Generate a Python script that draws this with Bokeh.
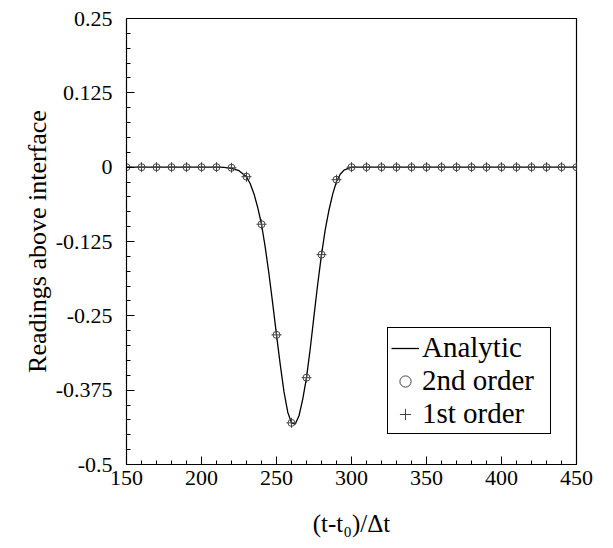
from bokeh.plotting import figure
from bokeh.models import FixedTicker, Legend, LegendItem, Range1d
from bokeh.embed import file_html
from bokeh.resources import INLINE

# ---- data ----
analytic_x = [150, 200, 210, 215, 220, 225, 230, 232.5, 235, 237.5, 240, 242.5,
              245, 247.5, 250, 252.5, 255, 257.5, 260, 262.5, 265, 267.5, 270,
              272.5, 275, 277.5, 280, 282.5, 285, 287.5, 290, 292.5, 295, 300,
              310, 450]
analytic_y = [0.0, 0.0, 0.0, -0.0005, -0.002, -0.006, -0.016, -0.028, -0.045,
              -0.068, -0.096, -0.135, -0.180, -0.230, -0.282, -0.332, -0.378,
              -0.412, -0.430, -0.432, -0.418, -0.390, -0.354, -0.305, -0.250,
              -0.196, -0.147, -0.105, -0.072, -0.045, -0.024, -0.012, -0.005,
              0.0, 0.0, 0.0]

pts_x = [150, 160, 170, 180, 190, 200, 210, 220, 230, 240, 250, 260, 270, 280,
         290, 300, 310, 320, 330, 340, 350, 360, 370, 380, 390, 400, 410, 420,
         430, 440, 450]
second_order = [0, 0, 0, 0, 0, 0, 0, -0.001, -0.016, -0.096, -0.282, -0.430,
                -0.354, -0.147, -0.021, 0, 0, 0, 0, 0, 0, 0, 0, 0, 0, 0, 0, 0,
                0, 0, 0]
first_order = [0, 0, 0, 0, 0, 0, 0, -0.001, -0.016, -0.096, -0.282, -0.430,
               -0.354, -0.147, -0.021, 0, 0, 0, 0, 0, 0, 0, 0, 0, 0, 0, 0, 0,
               0, 0, 0]

x_major = [150, 200, 250, 300, 350, 400, 450]
x_minor = list(range(150, 451, 10))
y_major = [-0.5, -0.375, -0.25, -0.125, 0, 0.125, 0.25]
y_labels = ["-0.5", "-0.375", "-0.25", "-0.125", "0", "0.125", "0.25"]
y_minor = [round(-0.5 + 0.025 * i, 3) for i in range(31)]

FONT = "Liberation Serif"

p = figure(width=596, height=540, output_backend="svg", toolbar_location=None,
           x_range=Range1d(150, 450), y_range=Range1d(-0.5, 0.25),
           min_border_left=126, min_border_right=20, min_border_top=18,
           min_border_bottom=76)
p.xgrid.visible = False
p.ygrid.visible = False
p.outline_line_color = "black"
p.outline_line_alpha = 1.0
p.outline_line_width = 1.2
p.background_fill_color = "white"
p.border_fill_color = "white"

for ax in (p.xaxis[0], p.yaxis[0]):
    ax.axis_line_color = "black"
    ax.major_tick_line_color = "black"
    ax.minor_tick_line_color = "black"
    ax.major_tick_in = 8
    ax.major_tick_out = 0
    ax.minor_tick_in = 4
    ax.minor_tick_out = 0
    ax.major_label_text_font = FONT
    ax.major_label_text_font_size = "22px"
    ax.major_label_text_color = "black"
    ax.axis_label_text_font = FONT
    ax.axis_label_text_font_style = "normal"
    ax.axis_label_text_color = "black"

p.xaxis.ticker = FixedTicker(ticks=x_major, minor_ticks=x_minor)
p.yaxis.ticker = FixedTicker(ticks=y_major, minor_ticks=y_minor)
p.yaxis.major_label_overrides = {v: s for v, s in zip(y_major, y_labels)}
p.xaxis.major_label_standoff = 6
p.yaxis.major_label_standoff = 14
p.xaxis.axis_label = "(t-t\u2080)/\u0394t"
p.yaxis.axis_label = "Readings above interface"
p.xaxis.axis_label_text_font_size = "25px"
p.yaxis.axis_label_text_font_size = "26px"
p.xaxis.axis_label_standoff = 22
p.yaxis.axis_label_standoff = 1

r_line = p.line(analytic_x, analytic_y, line_color="black", line_width=1.3)
r_circ = p.scatter(pts_x, second_order, marker="circle", size=7,
                   fill_color=None, line_color="#444444", line_width=1)
r_plus = p.scatter(pts_x, first_order, marker="cross", size=10,
                   line_color="#444444", line_width=1)

legend = Legend(items=[LegendItem(label="Analytic", renderers=[r_line]),
                       LegendItem(label="2nd order", renderers=[r_circ]),
                       LegendItem(label="1st order", renderers=[r_plus])],
                location=(261, 30))
legend.label_text_font = FONT
legend.label_text_font_size = "29px"
legend.label_text_color = "black"
legend.border_line_color = "black"
legend.border_line_width = 1
legend.border_line_alpha = 1.0
legend.background_fill_alpha = 1.0
legend.glyph_width = 28
legend.glyph_height = 28
legend.label_standoff = 3
legend.label_height = 28
legend.label_width = 125
legend.padding = 3
legend.spacing = 0
legend.margin = 0
p.add_layout(legend)

open("out.html", "w").write(file_html(p, INLINE))
